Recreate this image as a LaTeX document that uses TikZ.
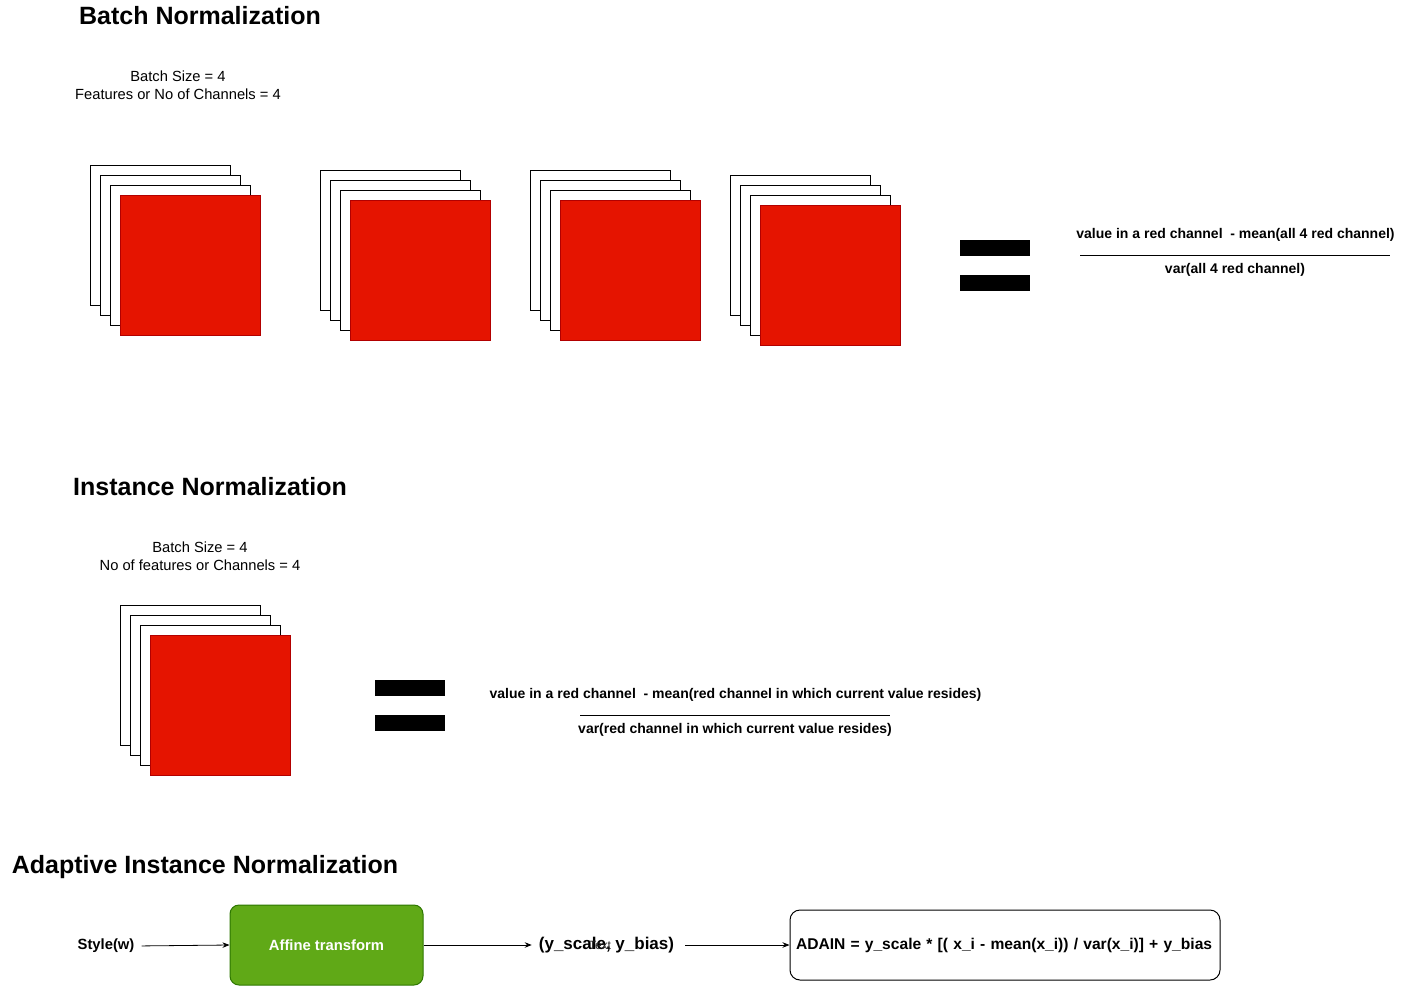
\documentclass[tikz,border=0pt]{standalone}
\usepackage{fontspec}
\setmainfont{Liberation Sans}
\usetikzlibrary{arrows.meta}
\definecolor{redfill}{HTML}{E51400}
\definecolor{redline}{HTML}{B20000}
\definecolor{greenfill}{HTML}{60A917}
\definecolor{greenline}{HTML}{2D7600}
\newcommand\sheetstack[3]{%
  \node[sheet] (#3a) at (#1,#2) {};
  \node[sheet] (#3b) at (#1+10,#2+10) {};
  \node[sheet] (#3c) at (#1+20,#2+20) {};
  \node[redsheet] (#3d) at (#1+30,#2+30) {};
}
\begin{document}
\begin{tikzpicture}[x=1pt,y=-1pt,
  sheet/.style={draw=black, fill=white, line width=1pt, minimum width=140pt, minimum height=140pt, anchor=north west, inner sep=0pt, outer sep=0pt},
  redsheet/.style={sheet, fill=redfill, draw=redline},
  title/.style={font=\fontsize{25}{30}\selectfont\bfseries, inner sep=0pt},
  note/.style={font=\fontsize{14.7}{18}\selectfont, align=center, inner sep=0pt},
  fractext/.style={font=\fontsize{14}{16}\selectfont\bfseries, inner sep=0pt},
  bar/.style={fill=black, draw=none, minimum width=70pt, minimum height=16pt, inner sep=0pt},
  arr/.style={-{Stealth[length=7pt,width=5.5pt]}, line width=0.8pt},
  bold/.style={font=\fontsize{14.8}{17}\selectfont\bfseries}]
\useasboundingbox (0,0) rectangle (1401,986);

% ---------- Batch Normalization ----------
\node[title] (t1) at (200,16) {Batch Normalization};
\node[note] (n1) at (178,85) {Batch Size = 4\\Features or No of Channels = 4};

\sheetstack{90}{165}{s1}
\sheetstack{320}{170}{s2}
\sheetstack{530}{170}{s3}
\sheetstack{730}{175}{s4}

\node[bar] (eq1a) at (995,247.5) {};
\node[bar] (eq1b) at (995,282.5) {};

\node[fractext] (num1) at (1235.5,235) {value in a red channel \ - mean(all 4 red channel)};
\coordinate (f1l) at (1080,255);
\coordinate (f1r) at (1390,255);
\draw[line width=0.9pt] (f1l) -- (f1r);
\node[fractext] (den1) at (1235,270) {var(all 4 red channel)};

% ---------- Instance Normalization ----------
\node[title] (t2) at (210,487) {Instance Normalization};
\node[note] (n2) at (200,556) {Batch Size = 4\\No of features or Channels = 4};

\sheetstack{120}{605}{s5}

\node[bar] (eq2a) at (410,687.5) {};
\node[bar] (eq2b) at (410,722.5) {};

\node[fractext] (num2) at (735.5,695) {value in a red channel \ - mean(red channel in which current value resides)};
\coordinate (f2l) at (580,715);
\coordinate (f2r) at (890,715);
\draw[line width=0.9pt] (f2l) -- (f2r);
\node[fractext] (den2) at (735,730) {var(red channel in which current value resides)};

% ---------- Adaptive Instance Normalization ----------
\node[title] (t3) at (205,867) {Adaptive Instance Normalization};

\node[bold, inner sep=0pt] (style) at (106,946) {Style(w)};
\node[draw=greenline, fill=greenfill, rounded corners=9pt, line width=1pt,
      minimum width=193pt, minimum height=80pt, text=white, bold] (affine) at (326.5,945) {Affine transform};
\node[font=\fontsize{17}{19}\selectfont\bfseries, inner xsep=7pt, inner ysep=0pt] (params) at (606.5,945) {(y\_scale, y\_bias)};
\node[font=\fontsize{12}{14}\selectfont, text=black!85, inner sep=0pt] (ovl) at (600,945) {Text};
\node[draw=black, rounded corners=10pt, line width=1pt, minimum width=430pt, minimum height=70pt,
      text width=418pt, align=left, inner xsep=6pt, font=\fontsize{15.6}{18}\selectfont\bfseries] (adain) at (1005,945)
      {ADAIN = y\_scale * [( x\_i - mean(x\_i)) / var(x\_i)] + y\_bias};

\draw[arr, shorten <=7pt] (style.east) -- (affine.west);
\draw[arr] (affine.east) -- (params.west);
\draw[arr, shorten <=4pt] (params.east) -- (adain.west);
\end{tikzpicture}
\end{document}
